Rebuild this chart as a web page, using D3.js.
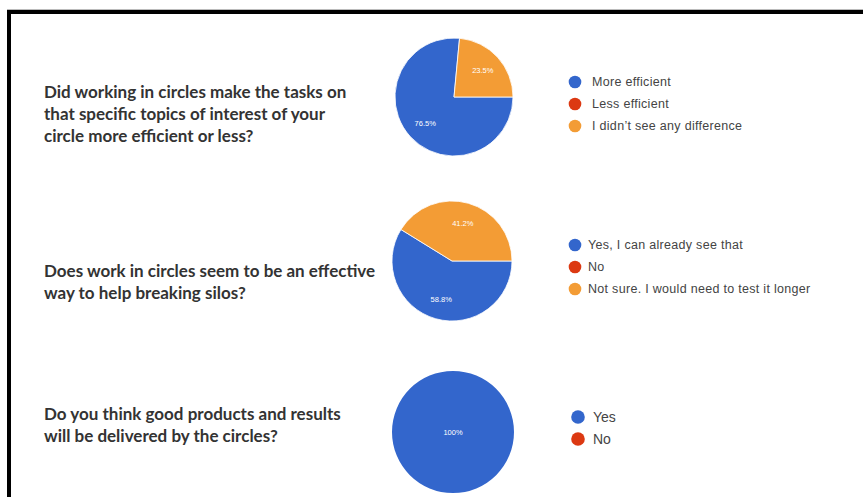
<!DOCTYPE html>
<html>
<head>
<meta charset="utf-8">
<script src="https://cdn.jsdelivr.net/npm/d3@7"></script>
<style>
  html, body { margin: 0; padding: 0; background: #fff; }
  svg { display: block; }
</style>
</head>
<body>
<svg id="chart" width="863" height="497"></svg>
<script>
// Survey questions (wrapped lines as shown)
const questions = [
  ["Did working in circles make the tasks on", "that specific topics of interest of your", "circle more efficient or less?"],
  ["Does work in circles seem to be an effective", "way to help breaking silos?"],
  ["Do you think good products and results", "will be delivered by the circles?"]
];

// Answer options per question
const answers1 = ["More efficient", "Less efficient", "I didn\u2019t see any difference"];
const answers2 = ["Yes, I can already see that", "No", "Not sure. I would need to test it longer"];
const answers3 = ["Yes", "No"];

// Share of responses, in percent
const shares1 = [76.5, 0, 23.5];
const shares2 = [58.8, 0, 41.2];
const shares3 = [100, 0];

const sliceColors = ["#3366cc", "#dc3912", "#f39c35"];

const panels = [
  { lines: questions[0], answers: answers1, shares: shares1, cx: 454, cy: 97, r: 59,
    textY: 98, legendX: 575, legendY: 82, legendFont: 12.5, spacing: 0.3, textX: 592, dotR: 6.3 },
  { lines: questions[1], answers: answers2, shares: shares2, cx: 452, cy: 261, r: 60,
    textY: 277, legendX: 575, legendY: 245, legendFont: 12.5, spacing: 0.3, textX: 588, dotR: 6.3 },
  { lines: questions[2], answers: answers3, shares: shares3, cx: 453, cy: 432, r: 61,
    textY: 420, legendX: 578, legendY: 417, legendFont: 14, spacing: 0, textX: 593, dotR: 6.8 }
];

const svg = d3.select("#chart");

// Frame
svg.append("line").attr("x1", 7).attr("x2", 863).attr("y1", 9.5).attr("y2", 9.5)
  .attr("stroke", "#bbb").attr("stroke-width", 1);
svg.append("path")
  .attr("d", "M9,497 V12 H863")
  .attr("fill", "none").attr("stroke", "#000").attr("stroke-width", 4);

const pie = d3.pie().sort(null).value(d => d)
  .startAngle(Math.PI / 2).endAngle(Math.PI / 2 + 2 * Math.PI);

const qFont = "'Lato', 'Open Sans', sans-serif";
const legendFontFamily = "'Liberation Sans', Arial, sans-serif";

panels.forEach(p => {
  // Question text
  svg.append("g").selectAll("text").data(p.lines).join("text")
    .attr("x", 44)
    .attr("y", (d, k) => p.textY + k * 22)
    .attr("font-family", qFont)
    .attr("font-weight", 700)
    .attr("font-size", 17)
    .attr("fill", "#333")
    .text(d => d);

  // Pie
  const arc = d3.arc().innerRadius(0).outerRadius(p.r);
  const labelArc = d3.arc().innerRadius(p.r * 0.66).outerRadius(p.r * 0.66);
  const g = svg.append("g").attr("transform", `translate(${p.cx},${p.cy})`);
  const arcs = pie(p.shares);
  g.selectAll("path").data(arcs).join("path")
    .attr("d", arc)
    .attr("fill", (d, k) => sliceColors[k])
    .attr("stroke", d => d.value > 0 && d.value < 100 ? "#fff" : "none")
    .attr("stroke-width", 0.8);
  g.selectAll("text").data(arcs.filter(d => d.value > 0)).join("text")
    .attr("transform", d => d.value >= 100 ? "translate(0,0)" : `translate(${labelArc.centroid(d)})`)
    .attr("text-anchor", "middle")
    .attr("dy", "0.35em")
    .attr("font-family", legendFontFamily)
    .attr("font-size", 7.5)
    .attr("fill", "#fff")
    .text(d => d.value + "%");

  // Legend
  const items = svg.append("g").selectAll("g").data(p.answers).join("g")
    .attr("transform", (d, k) => `translate(0,${p.legendY + k * 22})`);
  items.append("circle")
    .attr("cx", p.legendX).attr("cy", 0).attr("r", p.dotR)
    .attr("fill", (d, k) => sliceColors[k]);
  items.append("text")
    .attr("x", p.textX).attr("y", 0).attr("dy", "0.35em")
    .attr("font-family", legendFontFamily)
    .attr("font-size", p.legendFont)
    .attr("letter-spacing", p.spacing)
    .attr("fill", "#444")
    .text(d => d);
});
</script>
</body>
</html>
